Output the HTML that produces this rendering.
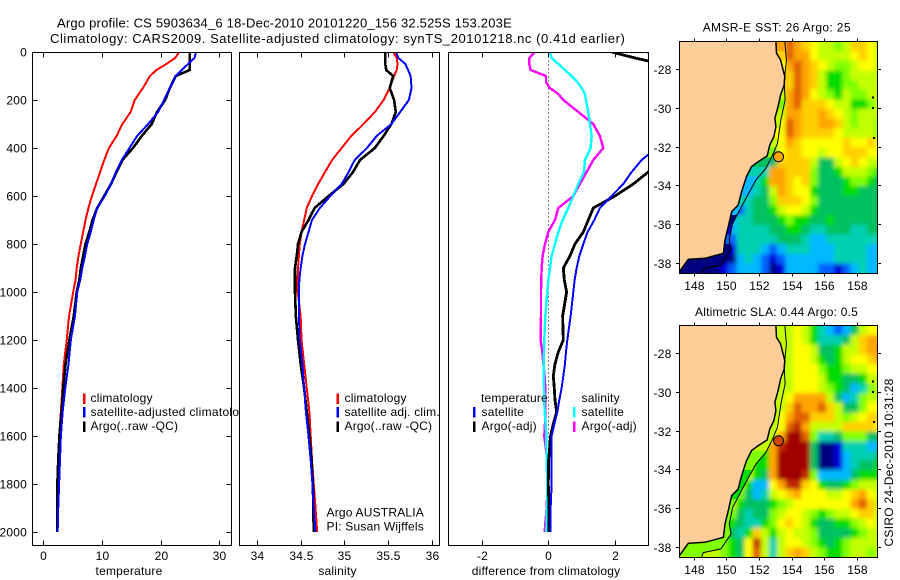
<!DOCTYPE html>
<html lang="en">
<head>
<meta charset="utf-8">
<title>Argo profile</title>
<style>
html,body{margin:0;padding:0;background:#fff;}
svg{display:block;}
text{font-family:"Liberation Sans",sans-serif;font-size:12px;letter-spacing:.2px;fill:#000;}
</style>
</head>
<body>
<svg id="chart" width="900" height="580" viewBox="0 0 900 580" xmlns="http://www.w3.org/2000/svg">
  <defs>
    <clipPath id="clip-t"><rect x="32" y="52" width="200" height="494"/></clipPath>
    <clipPath id="clip-s"><rect x="239" y="52" width="201" height="494"/></clipPath>
    <clipPath id="clip-d"><rect x="448" y="52" width="201" height="494"/></clipPath>
    <clipPath id="clip-m1"><rect x="679.5" y="41.5" width="198" height="232"/></clipPath>
    <clipPath id="clip-m2"><rect x="679.5" y="325.5" width="198" height="232"/></clipPath>
    <filter id="field-smooth" filterUnits="userSpaceOnUse" x="640" y="0" width="260" height="580">
      <feGaussianBlur stdDeviation="2.2"/>
    </filter>
  </defs>
  <text x="57" y="27.5" textLength="455" lengthAdjust="spacing" style="font-size:13px">Argo profile: CS 5903634_6 18-Dec-2010 20101220_156 32.525S 153.203E</text>
  <text x="50" y="43" textLength="575" lengthAdjust="spacing" style="font-size:13px">Climatology: CARS2009. Satellite-adjusted climatology: synTS_20101218.nc (0.41d earlier)</text>

  <g id="panel-t"></g>
  <g id="panel-s"></g>
  <g id="panel-d"></g>
  <g id="map-sst"></g>
  <g id="map-sla"></g>

  <text x="702.7" y="31.5" textLength="148" lengthAdjust="spacing">AMSR-E SST: 26 Argo: 25</text>
  <text x="695" y="316" textLength="163" lengthAdjust="spacing">Altimetric SLA: 0.44 Argo: 0.5</text>
  <text transform="translate(893,546.5) rotate(-90)" textLength="168" lengthAdjust="spacing">CSIRO 24-Dec-2010 10:31:28</text>
</svg>
<script>
// ---------- profile data ----------
const depths = [0,25,50,75,100,150,200,250,300,350,400,450,500,550,600,650,700,750,800,850,900,950,1000,1100,1200,1300,1400,1500,1600,1700,1800,1900,2000];
const tempClim = [23.2,22.5,21.0,19.3,18.2,17.0,15.6,14.9,13.5,12.5,11.2,10.4,9.7,9.0,8.3,7.7,7.2,6.8,6.4,6.0,5.7,5.5,5.1,4.4,4.0,3.5,3.25,3.0,2.7,2.6,2.5,2.4,2.3];
const tempSat = [26.05,25.8,24.7,23.6,22.6,21.6,20.6,19.6,17.9,16.0,14.7,13.4,12.4,11.55,10.5,9.2,8.6,8.1,7.5,7.1,6.65,6.3,5.8,5.4,4.7,4.3,3.75,3.3,3.0,2.85,2.7,2.55,2.45];
const tempArgo = [25.0,25.0,25.0,25.0,22.6,21.6,20.8,19.4,18.5,16.8,15.3,13.5,12.5,11.55,10.4,9.2,8.4,7.85,7.2,6.8,6.4,6.15,5.7,5.2,4.45,3.8,3.4,3.1,2.75,2.55,2.4,2.4,2.4];
const salClim = [35.56,35.6,35.61,35.6,35.57,35.52,35.45,35.35,35.22,35.08,34.97,34.86,34.78,34.70,34.63,34.57,34.54,34.51,34.49,34.48,34.47,34.465,34.466,34.50,34.51,34.54,34.57,34.60,34.615,34.63,34.65,34.67,34.69];
const salSat = [35.59,35.62,35.7,35.73,35.76,35.77,35.74,35.64,35.54,35.37,35.26,35.12,35.05,34.97,34.84,34.72,34.63,34.59,34.55,34.52,34.50,34.485,34.48,34.48,34.49,34.52,34.54,34.56,34.59,34.615,34.635,34.65,34.67];
const salArgo = [35.47,35.47,35.47,35.48,35.56,35.52,35.57,35.59,35.54,35.45,35.35,35.18,35.10,34.99,34.82,34.66,34.59,34.51,34.47,34.455,34.435,34.435,34.435,34.445,34.47,34.50,34.54,34.57,34.60,34.625,34.64,34.645,34.65];

const diffDepths = [0,25,50,75,100,125,150,175,200,250,300,350,400,450,500,550,600,650,700,750,800,850,900,950,1000,1100,1200,1250,1300,1350,1400,1450,1500,1550,1600,1700,1800,1900,2000];
const diffTempSat = [2.95,3.4,3.7,4.3,4.4,4.5,4.6,4.8,5.0,4.7,4.4,3.5,3.25,2.8,2.5,2.25,1.9,1.55,1.38,1.18,1.05,.93,.85,.79,.75,.67,.57,.53,.50,.45,.40,.33,.27,.18,.10,.10,.10,.07,.07];
const diffTempArgo = [1.9,2.6,3.4,3.6,3.6,3.6,3.6,3.6,3.6,3.6,3.6,3.6,3.6,3.3,3.0,2.55,2.0,1.35,1.2,1.05,.8,.65,.45,.48,.55,.43,.45,.30,.20,.15,.18,.20,.25,.15,.07,.01,0,.02,.02];
const diffSalSat = [.05,.10,.30,.50,.70,.87,1.0,1.10,1.13,1.20,1.25,1.30,1.27,1.10,1.07,.90,.75,.60,.43,.30,.20,.10,.05,0,-.03,-.09,-.12,-.13,-.14,-.14,-.13,-.12,-.11,-.08,-.06,-.05,-.03,-.04,-.06];
const diffSalArgo = [-.40,-.57,-.57,-.53,-.07,-.07,.05,.30,.45,.90,1.35,1.55,1.65,1.35,1.15,.95,.75,.30,.20,0,-.10,-.17,-.20,-.21,-.22,-.22,-.23,-.18,-.15,-.11,-.09,-.09,-.09,-.10,-.12,-.03,-.02,-.05,-.11];

const depthTicks = [0,200,400,600,800,1000,1200,1400,1600,1800,2000];
const tempTicks = [0,10,20,30];
const salTicks = [34,34.5,35,35.5,36];
const diffTicks = [-2,0,2];

// ---------- map data (0.5 degree cells, one char = colour level, '-' = under land) ----------
const lonTicks = [148,150,152,154,156,158];
const latTicks = [-28,-30,-32,-34,-36,-38];
const floatLat = -32.525;
const floatLon = 153.203;
const levelColors = ['#000080','#0000d8','#0060ff','#00b8ff','#00d0b0','#00c060','#00dc00','#80ff00','#c4ff00','#ffff00','#ffd000','#ffa400','#e06000','#c02800','#a00000'];
const sstRows = [
"------------acba98878aa98",
"------------acbb988889a98",
"------------9bcba98778998",
"-------------acba86678888",
"-------------acba86677888",
"------------8bcb987687788",
"------------8bcaaa9886678",
"------------8bbaaba987888",
"------------9cbaabba87887",
"------------9cbaaaa988887",
"-----------89ba99999a99a9",
"-----------59aa99899aaa99",
"----------35aaaa85589a988",
"---------34bbaaa755688876",
"--------346bba9a755567765",
"--------3458ba99655566555",
"-------34557aaa9755555555",
"-------245568998655555555",
"------3445556766556555555",
"------3444455665445554455",
"------2444445554334444444",
"------1444323444333444433",
"0000000343212333333444433",
"0000012333201333322123433"
];
const slaRows = [
"------------8898643235899",
"------------8898644458abb",
"------------8899855688abb",
"-------------8998656899ab",
"-------------899976678899",
"------------8899986655688",
"------------8899987653478",
"------------89bbbb8534788",
"------------8acbbca855799",
"------------9bccaaa8789aa",
"------------9cdb8888aaaa9",
"-----------8beec744577755",
"----------6bdeee500144433",
"---------66beeee500134445",
"--------866beeee500134556",
"--------865beeed733335666",
"-------86339bdda965567888",
"------8753489ab999889ab98",
"------865556789999999bca8",
"------7545578998767889aa8",
"------6544679a98655667898",
"------546a868988755556788",
"888887659d848998765678888",
"888887659c848aba876678878"
];
// colour level of the narrow shelf strip (coast to isobath), one per grid row
const sstShelf = "ba9878788987543343012000";
const slaShelf = "888888888888877666777777";
const coastLon = [153.04,153.08,153.33,153.59,153.55,153.33,153.18,152.98,153.04,152.92,152.67,152.51,151.96,151.55,151.24,150.94,150.73,150.33,150.12,149.92,149.82,148.69,147.67,147.12];
const coastLat = [-26.55,-27.17,-27.52,-28.38,-28.81,-29.33,-29.93,-30.53,-30.97,-31.48,-31.91,-32.48,-32.78,-33.03,-33.55,-34.33,-35.02,-35.36,-36.14,-36.83,-37.52,-37.78,-37.83,-38.47];
const isoLon = [153.59,153.69,153.55,153.61,153.35,153.14,152.79,152.43,151.82,151.10,150.39,150.18,150.29,149.67,148.59,148.49];
const isoLat = [-26.55,-27.52,-28.64,-29.59,-30.62,-31.83,-32.52,-33.12,-33.72,-34.84,-35.97,-36.83,-37.35,-38.12,-38.31,-38.55];
const islandLon = [159.0,159.0,159.05];
const islandLat = [-29.45,-30.0,-31.55];

// ---------- axis functions ----------
const yDepth = d => 52 + 0.24 * d;
const xTemp = v => 43.3 + 5.86 * v;
const xSal = v => 257 + 87.3 * (v - 34);
const xDiff = v => 548.3 + 33.33 * v;
const xLon = lon => 693.7 + 16.3 * (lon - 148);
const yLatSst = lat => 69.3 + 19.33 * (-28 - lat);
const yLatSla = lat => 353.3 + 19.33 * (-28 - lat);

const NS = 'http://www.w3.org/2000/svg';

function addText(parent, name, x, y, str, anchor) {
  const el = document.createElementNS(NS, 'text');
  
  
  el.setAttribute('x', x);
  el.setAttribute('y', y);
  if (anchor) el.setAttribute('text-anchor', anchor);
  el.textContent = str;
  parent.appendChild(el);
  return el;
}
function addLine(parent, name, x1, y1, x2, y2) {
  const el = document.createElementNS(NS, 'line');
  
  
  el.setAttribute('x1', x1);
  el.setAttribute('y1', y1);
  el.setAttribute('x2', x2);
  el.setAttribute('y2', y2);
  el.setAttribute('stroke', '#000');
  el.setAttribute('stroke-width', '1');
  el.setAttribute('shape-rendering', 'crispEdges');
  parent.appendChild(el);
  return el;
}
function addRect(parent, name, x, y, w, h, fill) {
  const el = document.createElementNS(NS, 'rect');
  
  
  el.setAttribute('x', x);
  el.setAttribute('y', y);
  el.setAttribute('width', w);
  el.setAttribute('height', h);
  el.setAttribute('fill', fill);
  parent.appendChild(el);
  return el;
}
function addSeries(parent, name, xs, ys, xf, color, width) {
  const el = document.createElementNS(NS, 'polyline');
  
  
  el.setAttribute('points', xs.map((v, i) => xf(v).toFixed(2) + ',' + yDepth(ys[i]).toFixed(2)).join(' '));
  el.setAttribute('fill', 'none');
  el.setAttribute('stroke', color);
  el.setAttribute('stroke-width', width);
  el.setAttribute('stroke-linejoin', 'round');
  el.setAttribute('shape-rendering', 'crispEdges');
  parent.appendChild(el);
  return el;
}
function addLegendRow(parent, name, barX, textX, barY, baseY, color, label) {
  const bar = addRect(parent, name + '-swatch', barX, barY, 2.6, 10.5, color);
  bar.setAttribute('shape-rendering', 'crispEdges');
  return addText(parent, name + '-label', textX, baseY, label);
}
function addFrame(parent, name, x0, x1, y0, y1) {
  const el = document.createElementNS(NS, 'rect');
  
  
  el.setAttribute('x', x0);
  el.setAttribute('y', y0);
  el.setAttribute('width', x1 - x0);
  el.setAttribute('height', y1 - y0);
  el.setAttribute('fill', 'none');
  el.setAttribute('stroke', '#000');
  el.setAttribute('stroke-width', '1');
  el.setAttribute('shape-rendering', 'crispEdges');
  parent.appendChild(el);
}
function addClipGroup(parent, clipId, name) {
  const g = document.createElementNS(NS, 'g');
  
  
  g.setAttribute('clip-path', 'url(#' + clipId + ')');
  parent.appendChild(g);
  return g;
}
function addXAxis(parent, ticks, xf, top, bottom, title, titleX) {
  ticks.forEach(t => {
    const x = Math.round(xf(t)) + 0.5;
    addLine(parent, 'x-tick-top', x, top, x, top + 5);
    addLine(parent, 'x-tick-bottom', x, bottom - 5, x, bottom);
    addText(parent, 'x-tick-label', x, 560, String(t), 'middle');
  });
  addText(parent, 'x-axis-title', titleX, 575, title, 'middle');
}

// ---------- temperature panel ----------
const pT = document.getElementById('panel-t');
addRect(pT, 'temperature-plot-background', 32.5, 52.5, 199, 493, '#fff');
const gT = addClipGroup(pT, 'clip-t', 'temperature-series');
addSeries(gT, 'temperature-climatology-line', tempClim, depths, xTemp, '#ff0000', 2);
addSeries(gT, 'temperature-argo-line', tempArgo, depths, xTemp, '#000', 2.6);
addSeries(gT, 'temperature-satellite-line', tempSat, depths, xTemp, '#0000ff', 2);
addFrame(pT, 'temperature-frame', 32.5, 231.5, 52.5, 545.5);
depthTicks.forEach(d => {
  const y = Math.round(yDepth(d)) + 0.5;
  addLine(pT, 'depth-tick-left', 32.5, y, 37.5, y);
  addLine(pT, 'depth-tick-right', 226.5, y, 231.5, y);
  addText(pT, 'depth-tick-label', 27, y + 4, String(d), 'end');
});
addXAxis(pT, tempTicks, xTemp, 52.5, 545.5, 'temperature', 129);
addLegendRow(pT, 'legend-climatology', 83, 90.5, 393.5, 402, '#ff0000', 'climatology');
const longLegend = addLegendRow(pT, 'legend-satellite-adjusted', 83, 90.5, 407, 416, '#0000ff', 'satellite-adjusted climatology');
longLegend.setAttribute('textLength', '162');
addLegendRow(pT, 'legend-argo', 83, 90.5, 421.5, 430, '#000', 'Argo(..raw -QC)');

// ---------- salinity panel (background covers overflowing legend text) ----------
const pS = document.getElementById('panel-s');
addRect(pS, 'salinity-plot-background', 239.5, 52.5, 200, 493, '#fff');
const gS = addClipGroup(pS, 'clip-s', 'salinity-series');
addSeries(gS, 'salinity-climatology-line', salClim, depths, xSal, '#ff0000', 2);
addSeries(gS, 'salinity-argo-line', salArgo, depths, xSal, '#000', 2.6);
addSeries(gS, 'salinity-satellite-line', salSat, depths, xSal, '#0000ff', 2);
addFrame(pS, 'salinity-frame', 239.5, 439.5, 52.5, 545.5);
addXAxis(pS, salTicks, xSal, 52.5, 545.5, 'salinity', 337.5);
addLegendRow(pS, 'legend-climatology', 336.5, 344.5, 393.5, 402, '#ff0000', 'climatology');
addLegendRow(pS, 'legend-satellite-adj', 336.5, 344.5, 407, 416, '#0000ff', 'satellite adj. clim.');
addLegendRow(pS, 'legend-argo', 336.5, 344.5, 421.5, 430, '#000', 'Argo(..raw -QC)');
addText(pS, 'program-label', 326.5, 516.5, 'Argo AUSTRALIA');
addText(pS, 'pi-label', 326.5, 530.5, 'PI: Susan Wijffels');

// ---------- difference panel ----------
const pD = document.getElementById('panel-d');
addRect(pD, 'difference-plot-background', 448.5, 52.5, 200, 493, '#fff');
const gD = addClipGroup(pD, 'clip-d', 'difference-series');
const zero = addLine(gD, 'zero-reference-line', Math.round(xDiff(0)) + 0.5, 52.5, Math.round(xDiff(0)) + 0.5, yDepth(2000));
zero.setAttribute('stroke-dasharray', '1 3');
addSeries(gD, 'diff-salinity-argo-line', diffSalArgo, diffDepths, xDiff, '#ff00ff', 2.4);
addSeries(gD, 'diff-salinity-satellite-line', diffSalSat, diffDepths, xDiff, '#00ffff', 2.4);
addSeries(gD, 'diff-temperature-argo-line', diffTempArgo, diffDepths, xDiff, '#000', 2.8);
addSeries(gD, 'diff-temperature-satellite-line', diffTempSat, diffDepths, xDiff, '#0000ff', 2);
addFrame(pD, 'difference-frame', 448.5, 648.5, 52.5, 545.5);
addXAxis(pD, diffTicks, xDiff, 52.5, 545.5, 'difference from climatology', 546);
addText(pD, 'legend-temperature-heading', 481, 402, 'temperature');
addLegendRow(pD, 'legend-temp-satellite', 473, 481.5, 407, 416, '#0000ff', 'satellite');
addLegendRow(pD, 'legend-temp-argo', 473, 481.5, 421.5, 430, '#000', 'Argo(-adj)');
addText(pD, 'legend-salinity-heading', 581.5, 402, 'salinity');
addLegendRow(pD, 'legend-sal-satellite', 573, 581.5, 407, 416, '#00ffff', 'satellite');
addLegendRow(pD, 'legend-sal-argo', 573, 581.5, 421.5, 430, '#ff00ff', 'Argo(-adj)');

// ---------- maps ----------
function drawMap(host, rows, shelf, yLat, clipId, top, bottom, markerFill, prefix) {
  addRect(host, prefix + '-land-background', 679.5, top, 198, bottom - top, '#fccc99');
  const g = addClipGroup(host, clipId, prefix + '-field');

  // smoothed 0.5 degree field; cells under land take the row's first ocean value
  const smooth = document.createElementNS(NS, 'g');
  
  
  smooth.setAttribute('filter', 'url(#field-smooth)');
  g.appendChild(smooth);
  rows.forEach((row, r) => {
    const firstOcean = row.replace(/-/g, '')[0];
    for (let c = 0; c < row.length; c++) {
      const ch = row[c] === '-' ? firstOcean : row[c];
      const lon0 = 147.12 + 0.5 * c;
      const lat0 = -26.55 - 0.5 * r;
      const padL = c === 0 ? 12 : 0;
      const padR = c === row.length - 1 ? 12 : 0;
      const padT = r === 0 ? 12 : 0;
      const padB = r === rows.length - 1 ? 12 : 0;
      const cell = addRect(smooth, prefix + '-cell', xLon(lon0) - padL, yLat(lat0) - padT, xLon(lon0 + 0.5) - xLon(lon0) + 0.4 + padL + padR, yLat(lat0 - 0.5) - yLat(lat0) + 0.4 + padT + padB, levelColors[parseInt(ch, 36)]);
      cell.setAttribute('shape-rendering', 'crispEdges');
    }
  });

  // shelf strip between coast and isobath, coloured by row
  const clip = document.createElementNS(NS, 'clipPath');
  clip.setAttribute('id', prefix + '-shelf-clip');
  const clipPoly = document.createElementNS(NS, 'polygon');
  const shelfPts = coastLon.map((lon, i) => xLon(lon).toFixed(1) + ',' + yLat(coastLat[i]).toFixed(1));
  for (let i = isoLon.length - 1; i >= 0; i--) {
    shelfPts.push(xLon(isoLon[i]).toFixed(1) + ',' + yLat(isoLat[i]).toFixed(1));
  }
  clipPoly.setAttribute('points', shelfPts.join(' '));
  clip.appendChild(clipPoly);
  host.appendChild(clip);
  const shelfGroup = addClipGroup(g, prefix + '-shelf-clip', prefix + '-shelf');
  for (let r = 0; r < shelf.length; r++) {
    const lat0 = -26.55 - 0.5 * r;
    const band = addRect(shelfGroup, prefix + '-shelf-band', 679.5, yLat(lat0), 198, yLat(lat0 - 0.5) - yLat(lat0) + 0.4, levelColors[parseInt(shelf[r], 36)]);
    band.setAttribute('shape-rendering', 'crispEdges');
  }

  const land = document.createElementNS(NS, 'polygon');
  
  
  const pts = coastLon.map((lon, i) => xLon(lon).toFixed(1) + ',' + yLat(coastLat[i]).toFixed(1));
  pts.push('679.5,' + bottom, '679.5,' + top);
  land.setAttribute('points', pts.join(' '));
  land.setAttribute('fill', '#fccc99');
  land.setAttribute('stroke', 'none');
  g.appendChild(land);
  const coast = document.createElementNS(NS, 'polyline');
  
  
  coast.setAttribute('points', coastLon.map((lon, i) => xLon(lon).toFixed(1) + ',' + yLat(coastLat[i]).toFixed(1)).join(' '));
  coast.setAttribute('fill', 'none');
  coast.setAttribute('stroke', '#000');
  coast.setAttribute('stroke-width', '1.5');
  g.appendChild(coast);
  const iso = document.createElementNS(NS, 'polyline');
  
  
  iso.setAttribute('points', isoLon.map((lon, i) => xLon(lon).toFixed(1) + ',' + yLat(isoLat[i]).toFixed(1)).join(' '));
  iso.setAttribute('fill', 'none');
  iso.setAttribute('stroke', '#000');
  iso.setAttribute('stroke-width', '1');
  g.appendChild(iso);
  islandLon.forEach((lon, i) => {
    const isle = addRect(g, prefix + '-island', xLon(lon) - 1, yLat(islandLat[i]) - 1, 2, 2, '#000');
    isle.setAttribute('shape-rendering', 'crispEdges');
  });
  const marker = document.createElementNS(NS, 'circle');
  
  
  marker.setAttribute('cx', xLon(floatLon));
  marker.setAttribute('cy', yLat(floatLat));
  marker.setAttribute('r', 5);
  marker.setAttribute('fill', markerFill);
  marker.setAttribute('stroke', '#000');
  marker.setAttribute('stroke-width', '1');
  g.appendChild(marker);
  addFrame(host, prefix + '-frame', 679.5, 877.5, top, bottom);
  lonTicks.forEach(t => {
    const x = Math.round(xLon(t)) + 0.5;
    addLine(host, prefix + '-lon-tick-top', x, top - 3, x, top);
    addLine(host, prefix + '-lon-tick-bottom', x, bottom, x, bottom + 3);
    addText(host, prefix + '-lon-tick-label', x, bottom + 16.5, String(t), 'middle');
  });
  latTicks.forEach(t => {
    const y = Math.round(yLat(t)) + 0.5;
    addLine(host, prefix + '-lat-tick-left', 676, y, 679.5, y);
    addLine(host, prefix + '-lat-tick-right', 877.5, y, 881, y);
    addText(host, prefix + '-lat-tick-label', 671.5, y + 4.5, String(t), 'end');
  });
}
drawMap(document.getElementById('map-sst'), sstRows, sstShelf, yLatSst, 'clip-m1', 41.5, 273.5, '#ffa400', 'sst');
drawMap(document.getElementById('map-sla'), slaRows, slaShelf, yLatSla, 'clip-m2', 325.5, 557.5, '#d04800', 'sla');
</script>
</body>
</html>
